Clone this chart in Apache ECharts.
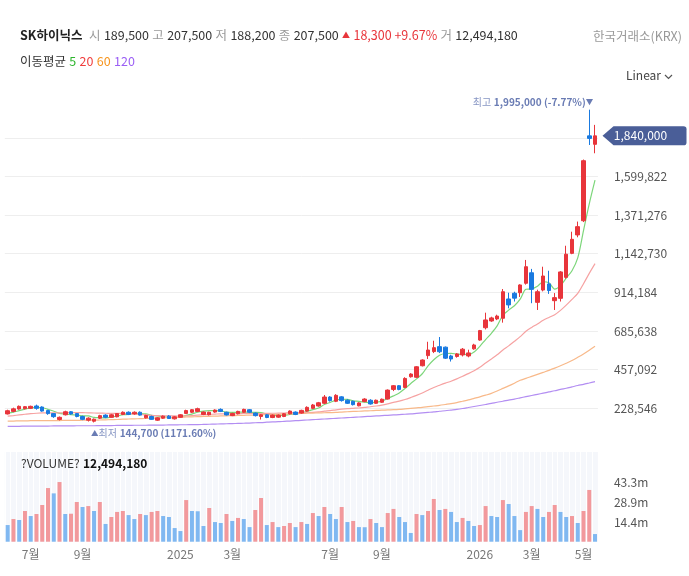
<!DOCTYPE html>
<html><head><meta charset="utf-8">
<script src="https://cdn.jsdelivr.net/npm/echarts@6.0.0/dist/echarts.min.js"></script>
<style>html,body{margin:0;padding:0;background:#fff}#c{width:689px;height:576px}</style>
</head><body><div id="c"></div>
<script>
const FONT = '"Noto Sans CJK KR","Noto Sans",sans-serif';
const stockName = 'SK하이닉스';
const exchangeName = '한국거래소(KRX)';
const quoteLabels = ['시', '고', '저', '종', '거'];
const quoteValues = [189500, 207500, 188200, 207500, 12494180];
const quoteChange = 18300;
const quoteChangePct = '+9.67%';
const maTitle = '이동평균';
const maPeriods = [5, 20, 60, 120];
const maLineColors = ['#7dd67b', '#f6a2a2', '#f8b98a', '#b38ef2'];
const maLegendColors = ['#2bb52b', '#f03e3e', '#f7941d', '#9b5ff5'];
const scaleLabel = 'Linear';
const volumeTitle = '?VOLUME?';
const volumeShown = 12494180;

const categories = [
'2024-06-02','2024-06-09','2024-06-16','2024-06-23','2024-06-30','2024-07-07','2024-07-14','2024-07-21','2024-07-28','2024-08-04',
'2024-08-11','2024-08-18','2024-08-25','2024-09-01','2024-09-08','2024-09-15','2024-09-22','2024-09-29','2024-10-06','2024-10-13',
'2024-10-20','2024-10-27','2024-11-03','2024-11-10','2024-11-17','2024-11-24','2024-12-01','2024-12-08','2024-12-15','2024-12-22',
'2024-12-29','2025-01-05','2025-01-12','2025-01-19','2025-01-26','2025-02-02','2025-02-09','2025-02-16','2025-02-23','2025-03-02',
'2025-03-09','2025-03-16','2025-03-23','2025-03-30','2025-04-06','2025-04-13','2025-04-20','2025-04-27','2025-05-04','2025-05-11',
'2025-05-18','2025-05-25','2025-06-01','2025-06-08','2025-06-15','2025-06-22','2025-06-29','2025-07-06','2025-07-13','2025-07-20',
'2025-07-27','2025-08-03','2025-08-10','2025-08-17','2025-08-24','2025-08-31','2025-09-07','2025-09-14','2025-09-21','2025-09-28',
'2025-10-05','2025-10-12','2025-10-19','2025-10-26','2025-11-02','2025-11-09','2025-11-16','2025-11-23','2025-11-30','2025-12-07',
'2025-12-14','2025-12-21','2025-12-28','2026-01-04','2026-01-11','2026-01-18','2026-01-25','2026-02-01','2026-02-08','2026-02-15',
'2026-02-22','2026-03-01','2026-03-08','2026-03-15','2026-03-22','2026-03-29','2026-04-05','2026-04-12','2026-04-19','2026-04-26',
'2026-05-03','2026-05-10','2026-05-17'];

const monthTicks = {
  '2024-06-30': '7월', '2024-09-01': '9월', '2024-12-29': '2025', '2025-03-02': '3월',
  '2025-06-29': '7월', '2025-08-31': '9월', '2025-12-28': '2026', '2026-03-01': '3월', '2026-05-03': '5월'
};

const opens = [
195000,210000,224000,226000,228000,242000,236000,215000,197000,162000,
190000,208000,197000,180000,158000,152000,170000,188000,175000,178000,
192000,205000,195000,205000,172000,180000,158000,170000,182000,166000,
175000,198000,205000,210000,192000,190000,206000,222000,205000,185000,
196000,205000,220000,200000,180000,190000,174000,176000,180000,196000,
206000,200000,212000,228000,242000,258000,295000,270000,296000,276000,
270000,243000,268000,276000,258000,264000,283000,340000,362000,352000,
415000,412000,480000,540000,564000,593000,590000,538000,535000,544000,
538000,580000,632000,705000,745000,757000,761000,875000,909000,912000,
968000,1030000,855000,928000,964000,865000,879000,1003000,1145000,1254000,
1338000,1840000,1790000];
const closes = [
214000,225000,240000,238000,240000,228000,212000,197000,179000,175000,
208000,195000,180000,163000,170000,164000,185000,175000,190000,197000,
205000,192000,205000,188000,186000,163000,172000,182000,168000,178000,
190000,215000,220000,226000,206000,205000,218000,210000,189000,198000,
210000,222000,205000,185000,190000,174000,188000,188000,196000,212000,
192000,216000,234000,248000,261000,295000,274000,305000,274000,258000,
250000,260000,283000,254000,276000,282000,336000,362000,340000,405000,
431000,474000,514000,573000,587000,563000,525000,520000,550000,578000,
556000,603000,688000,751000,763000,774000,918000,840000,880000,958000,
1066000,932000,918000,1011000,925000,883000,1035000,1140000,1228000,1303000,
1693000,1825000,1840000];
const lows = [
192000,205000,220000,222000,224000,220000,208000,190000,172000,156000,
186000,190000,175000,158000,150000,144700,165000,170000,172000,175000,
188000,188000,190000,185000,168000,160000,154000,166000,165000,162000,
172000,195000,200000,206000,188000,186000,202000,206000,186000,182000,
192000,202000,200000,180000,162000,170000,170000,172000,176000,192000,
188000,196000,208000,224000,238000,254000,268000,265000,268000,254000,
245000,240000,264000,250000,254000,260000,280000,330000,335000,348000,
410000,408000,476000,520000,555000,555000,520000,505000,528000,535000,
530000,575000,628000,695000,740000,750000,735000,820000,860000,887000,
960000,850000,810000,920000,905000,810000,860000,995000,1140000,1240000,
1330000,1786000,1737000];
const highs = [
220000,232000,245000,242000,244000,250000,240000,220000,200000,180000,
214000,212000,200000,185000,175000,168000,190000,193000,195000,200000,
210000,210000,210000,210000,190000,185000,176000,186000,188000,182000,
194000,220000,224000,232000,210000,208000,222000,228000,208000,202000,
214000,226000,224000,204000,194000,194000,192000,192000,200000,216000,
210000,220000,240000,254000,266000,307000,300000,312000,300000,282000,
274000,264000,288000,282000,280000,286000,340000,366000,366000,412000,
436000,478000,518000,622000,628000,650000,594000,545000,555000,585000,
575000,610000,692000,794000,770000,782000,934000,912000,918000,962000,
1106000,1053000,930000,1066000,1042000,910000,1040000,1190000,1273000,1333000,
1700000,1995000,1905000];
// weekly volume, millions of shares
const volumes = [
12.2,16.6,15.9,22.5,18.8,20.3,26.9,39.3,35.4,43.7,
20.3,20.5,29.1,25.4,26.1,22.5,29.1,13.0,18.1,21.8,
22.5,19.5,16.6,20.3,19.5,21.8,22.5,18.8,18.1,10.0,
7.8,30.5,22.5,22.3,11.5,24.7,14.4,13.7,20.3,15.2,
17.4,16.6,10.7,23.2,32.0,12.2,14.4,10.7,11.5,13.7,
10.7,14.4,13.0,21.0,18.8,25.4,20.3,16.6,25.4,14.4,
15.2,10.7,10.6,16.6,13.7,10.7,21.0,24.0,18.1,14.4,
6.4,20.3,19.5,22.5,31.3,23.2,24.0,21.8,14.4,17.4,
15.2,11.5,12.2,26.1,18.8,18.1,30.5,27.6,18.8,8.5,
21.8,26.1,24.0,18.1,21.8,26.9,21.8,18.1,18.8,13.7,
22.5,37.9,5.6];
// weekly closes before the first visible week (feed the 5/20 averages)
const priorCloses = [158000,162000,165000,170000,175000,178000,182000,176000,180000,185000,
183000,180000,178000,185000,190000,192000,195000,196000,198000];
// 60- and 120-week averages
const ma60 = [
153000,153000,154000,154000,155000,155000,155000,156000,156000,156000,157000,157000,157000,158000,158000,158000,159000,
160000,161000,162000,164000,165000,166000,167000,168000,170000,171000,172000,173000,174000,176000,177000,178000,179000,180000,
181000,182000,183000,184000,185000,186000,187000,188000,189000,190000,191000,192000,193000,194000,195000,196000,198000,
199000,200000,201000,202000,203000,204000,206000,208000,210000,
211000,213000,214000,216000,217000,219000,220000,222000,
225000,228000,231000,234000,238000,242000,246000,251000,256000,
262000,270000,278000,287000,296000,306000,317000,
331000,346000,361000,377000,394000,
405000,417000,429000,441000,453000,
466000,480000,495000,511000,530000,
550000,572000,595000];
const ma120 = [
122000,122000,122000,123000,123000,123000,123000,123000,124000,124000,124000,
124000,125000,125000,125000,125000,126000,126000,126000,127000,127000,
127000,128000,128000,128000,129000,129000,129000,130000,130000,131000,
131000,132000,132000,133000,134000,
135000,136000,137000,138000,139000,
140000,141000,143000,144000,146000,
148000,149000,151000,153000,155000,
157000,159000,161000,163000,165000,
167000,169000,171000,173000,175000,
177000,179000,181000,183000,185000,
187000,189000,191000,193000,195000,
198000,201000,204000,207000,
211000,214000,218000,222000,
227000,233000,239000,245000,
251000,257000,264000,270000,
277000,283000,290000,297000,
304000,311000,318000,325000,
332000,340000,347000,355000,
363000,370000,378000,386000];

const priceStep = 228546;
const priceMax = priceStep * 9;
const volStep = 43.3 / 3;
const volMax = 65.7;

const UP = '#e8353b', DOWN = '#1a7ae0';
const VOL_UP = '#f2999c', VOL_DOWN = '#80b8f1';
const fmt = v => v.toLocaleString('en-US');

function movingAverage(n) {
  const all = priorCloses.concat(closes);
  const off = priorCloses.length;
  return closes.map((_, i) => {
    let s = 0;
    for (let k = 0; k < n; k++) s += all[off + i - k];
    return Math.round(s / n);
  });
}
const maData = [movingAverage(5), movingAverage(20), ma60, ma120];

const last = closes.length - 1;
const lastClose = closes[last];
let maxIdx = 0, minIdx = 0;
highs.forEach((h, i) => { if (h > highs[maxIdx]) maxIdx = i; });
lows.forEach((l, i) => { if (l < lows[minIdx]) minIdx = i; });
const pctHigh = ((lastClose - highs[maxIdx]) / highs[maxIdx] * 100).toFixed(2);
const pctLow = ((lastClose - lows[minIdx]) / lows[minIdx] * 100).toFixed(2);

const candleData = categories.map((_, i) => [opens[i], closes[i], lows[i], highs[i]]);
const volData = volumes.map((v, i) => ({
  value: v,
  itemStyle: { color: (i > 0 && v >= volumes[i - 1]) ? VOL_UP : VOL_DOWN }
}));

const headerText =
  `{n|${stockName}}  ` +
  quoteLabels.slice(0, 4).map((l, i) => `{l|${l}} {v|${fmt(quoteValues[i])}}`).join(' ') +
  ` {u|▲} {r|${fmt(quoteChange)} ${quoteChangePct}} {l|${quoteLabels[4]}} {v|${fmt(quoteValues[4])}}`;

const maLegendText = `{t|${maTitle}} ` + maPeriods.map((p, i) => `{m${i}|${p}}`).join(' ');
const maRich = { t: { fontSize: 12.5, fill: '#333', fontFamily: FONT } };
maPeriods.forEach((p, i) => { maRich['m' + i] = { fontSize: 12.5, fill: maLegendColors[i], fontFamily: FONT }; });

const markRich = {
  hl: { color: '#8796c4', fontSize: 10, fontFamily: FONT },
  hv: { color: '#6a7cb4', fontSize: 10, fontWeight: 'bold', fontFamily: FONT },
  ha: { color: '#6a7cb4', fontSize: 7.5 }
};

const chart = echarts.init(document.getElementById('c'));
chart.setOption({
  animation: false,
  textStyle: { fontFamily: FONT },
  grid: [
    { left: 4.8, right: 91.1, top: 99.2, height: 347.7 },
    { left: 4.8, right: 91.1, top: 452, height: 89.7, show: true, backgroundColor: '#f5f7fb', borderWidth: 0 }
  ],
  xAxis: [
    { type: 'category', gridIndex: 0, data: categories, show: false },
    { type: 'category', gridIndex: 1, data: categories,
      axisLine: { show: false }, axisTick: { show: false },
      splitLine: { show: true, interval: 0, lineStyle: { color: '#ffffff', width: 1 } },
      axisLabel: { interval: (i, v) => monthTicks[v] !== undefined, formatter: v => monthTicks[v] || '',
        color: '#777', fontSize: 12, margin: 7, fontFamily: FONT } }
  ],
  yAxis: [
    { type: 'value', gridIndex: 0, position: 'right', min: 0, max: priceMax, interval: priceStep,
      axisLine: { show: false }, axisTick: { show: false },
      splitLine: { show: true, showMinLine: false, showMaxLine: false, lineStyle: { color: '#eeeeee' } },
      axisLabel: { showMinLabel: false, showMaxLabel: false, margin: 16, color: '#555', fontSize: 12, fontFamily: FONT,
        formatter: v => (v > 0 && v < 1.7e6) ? fmt(v) : '' } },
    { type: 'value', gridIndex: 1, position: 'right', min: 0, max: volMax, interval: volStep,
      axisLine: { show: false }, axisTick: { show: false }, splitLine: { show: false },
      axisLabel: { showMinLabel: false, showMaxLabel: false, margin: 16, color: '#555', fontSize: 12, fontFamily: FONT,
        formatter: v => (v > 0 && v < 50) ? v.toFixed(1) + 'm' : '' } }
  ],
  series: maData.map((d, i) => ({
    type: 'line', name: 'MA' + maPeriods[i], xAxisIndex: 0, yAxisIndex: 0, data: d,
    showSymbol: false, smooth: 0.3, lineStyle: { color: maLineColors[i], width: 1.2 }, z: 1
  })).concat([
    { type: 'candlestick', xAxisIndex: 0, yAxisIndex: 0, data: candleData, barWidth: 4, z: 3,
      itemStyle: { color: UP, color0: DOWN, borderColor: UP, borderColor0: DOWN, borderWidth: 1 },
      markPoint: {
        animation: false,
        data: [
          { name: 'tag', coord: [categories[last], lastClose],
            symbol: 'path://M0,10 L11,0 L81,0 Q84,0 84,3 L84,17 Q84,20 81,20 L11,20 Z',
            symbolSize: [84, 19], symbolOffset: [49.5, 0], itemStyle: { color: '#4a5e98' },
            label: { show: true, position: 'inside', formatter: () => fmt(lastClose), color: '#fff',
              fontSize: 12, fontFamily: FONT, offset: [-4, 0] } },
          { name: 'hi', coord: [categories[maxIdx], highs[maxIdx]], symbol: 'circle', symbolSize: 1,
            itemStyle: { color: 'rgba(0,0,0,0)' },
            label: { show: true, position: 'top', distance: 1, align: 'right', offset: [4, 0],
              formatter: () => `{hl|최고} {hv|${fmt(highs[maxIdx])} (${pctHigh}%)}{ha|▼}`, rich: markRich } },
          { name: 'lo', coord: [categories[minIdx], lows[minIdx]], symbol: 'circle', symbolSize: 1,
            itemStyle: { color: 'rgba(0,0,0,0)' },
            label: { show: true, position: 'bottom', distance: 4, align: 'left', offset: [-3, 0],
              formatter: () => `{ha|▲}{hl|최저} {hv|${fmt(lows[minIdx])} (${pctLow}%)}`, rich: markRich } }
        ]
      } },
    { type: 'bar', xAxisIndex: 1, yAxisIndex: 1, data: volData, barWidth: 4 }
  ]),
  graphic: [
    { type: 'text', z: 100, left: 20, top: 29, style: { text: headerText, rich: {
        n: { fontSize: 12.5, fontWeight: 'bold', fill: '#222', fontFamily: FONT },
        l: { fontSize: 12.5, fill: '#999', fontFamily: FONT },
        v: { fontSize: 12.5, fill: '#333', fontFamily: FONT },
        u: { fontSize: 8, fill: UP, fontFamily: FONT },
        r: { fontSize: 12.5, fill: UP, fontFamily: FONT } } } },
    { type: 'text', z: 100, right: 7, top: 30, style: { text: exchangeName, fontSize: 12.5, fill: '#999', fontFamily: FONT } },
    { type: 'text', z: 100, left: 20, top: 55, style: { text: maLegendText, rich: maRich } },
    { type: 'text', z: 100, left: 626, top: 69, style: { text: scaleLabel, fontSize: 12, fill: '#444', fontFamily: FONT } },
    { type: 'polyline', z: 100, shape: { points: [[665, 75], [668.5, 78.5], [672, 75]] }, style: { stroke: '#555', lineWidth: 1.2, fill: null } },
    { type: 'text', z: 100, left: 21, top: 457, style: { text: `{a|${volumeTitle}} {b|${fmt(volumeShown)}}`, rich: {
        a: { fontSize: 12, fill: '#333', fontFamily: FONT },
        b: { fontSize: 12, fill: '#111', fontWeight: 'bold', fontFamily: FONT } } } }
  ]
});
</script></body></html>
